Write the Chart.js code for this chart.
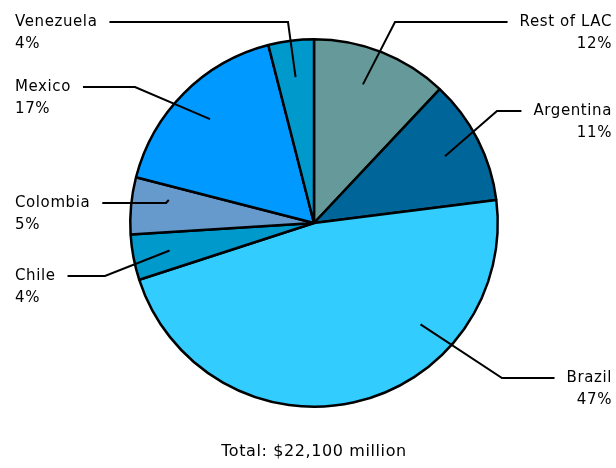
<!DOCTYPE html>
<html>
<head>
<meta charset="utf-8">
<script src="https://cdn.jsdelivr.net/npm/chart.js@4"></script>
<style>
  html, body { margin: 0; padding: 0; background: #fff; }
  #wrap { width: 616px; height: 468px; }
</style>
</head>
<body>
<div id="wrap"><canvas id="pieChart" width="616" height="468"></canvas></div>
<script>
// data, clockwise from 12 o'clock
const countries = ['Rest of LAC', 'Argentina', 'Brazil', 'Chile', 'Colombia', 'Mexico', 'Venezuela'];
const shares = [12, 11, 47, 4, 5, 17, 4];
const sliceColors = ['#669999', '#006699', '#33ccff', '#0099cc', '#6699cc', '#0099ff', '#0099cc'];
const totalText = 'Total: $22,100 million';

// where each callout sits (text anchor, elbow of the leader, spot in slice)
const callouts = [
  { x: 612, y: 22, align: 'right', elbowX: 395, frac: 0.45 },
  { x: 612, y: 111, align: 'right', elbowX: 497, frac: 0.5 },
  { x: 612, y: 378, align: 'right', elbowX: 502, frac: 0.3 },
  { x: 15, y: 276, align: 'left', elbowX: 105, frac: 0.5 },
  { x: 15, y: 203, align: 'left', elbowX: 166, frac: 0.7 },
  { x: 15, y: 87, align: 'left', elbowX: 135, frac: 0.5 },
  { x: 15, y: 22, align: 'left', elbowX: 288, frac: 0.5 }
];

const labelFont = '15px "DejaVu Sans"';
const totalFont = '16px "DejaVu Sans"';

const calloutPlugin = {
  id: 'callouts',
  afterDatasetsDraw(chart) {
    const ctx = chart.ctx;
    const arcs = chart.getDatasetMeta(0).data;
    ctx.save();
    ctx.strokeStyle = '#000';
    ctx.lineWidth = 2;
    ctx.fillStyle = '#000';
    ctx.font = labelFont;
    ctx.letterSpacing = '0.6px';
    ctx.textBaseline = 'middle';
    arcs.forEach((arc, i) => {
      const c = callouts[i];
      const ang = arc.startAngle + (arc.endAngle - arc.startAngle) * c.frac;
      const r = arc.outerRadius * 0.8;
      const px = arc.x + Math.cos(ang) * r;
      const py = arc.y + Math.sin(ang) * r;
      const textW = ctx.measureText(countries[i]).width;
      const lineStart = c.align === 'left' ? c.x + textW + 12 : c.x - textW - 12;
      ctx.beginPath();
      ctx.moveTo(px, py);
      ctx.lineTo(c.elbowX, c.y);
      ctx.lineTo(lineStart, c.y);
      ctx.stroke();
      ctx.textAlign = c.align;
      ctx.fillText(countries[i], c.x, c.y);
      ctx.fillText(shares[i] + '%', c.x, c.y + 22);
    });
    ctx.font = totalFont;
    ctx.textAlign = 'center';
    ctx.fillText(totalText, 314, 452);
    ctx.restore();
  }
};

const ctx = document.getElementById('pieChart').getContext('2d');
new Chart(ctx, {
  type: 'pie',
  data: {
    labels: countries,
    datasets: [{
      data: shares,
      backgroundColor: sliceColors,
      borderColor: '#000',
      borderWidth: 2.5
    }]
  },
  options: {
    responsive: false,
    animation: false,
    layout: { padding: { top: 38, bottom: 60, left: 129, right: 117 } },
    plugins: {
      legend: { display: false },
      tooltip: { enabled: false }
    }
  },
  plugins: [calloutPlugin]
});
</script>
</body>
</html>
